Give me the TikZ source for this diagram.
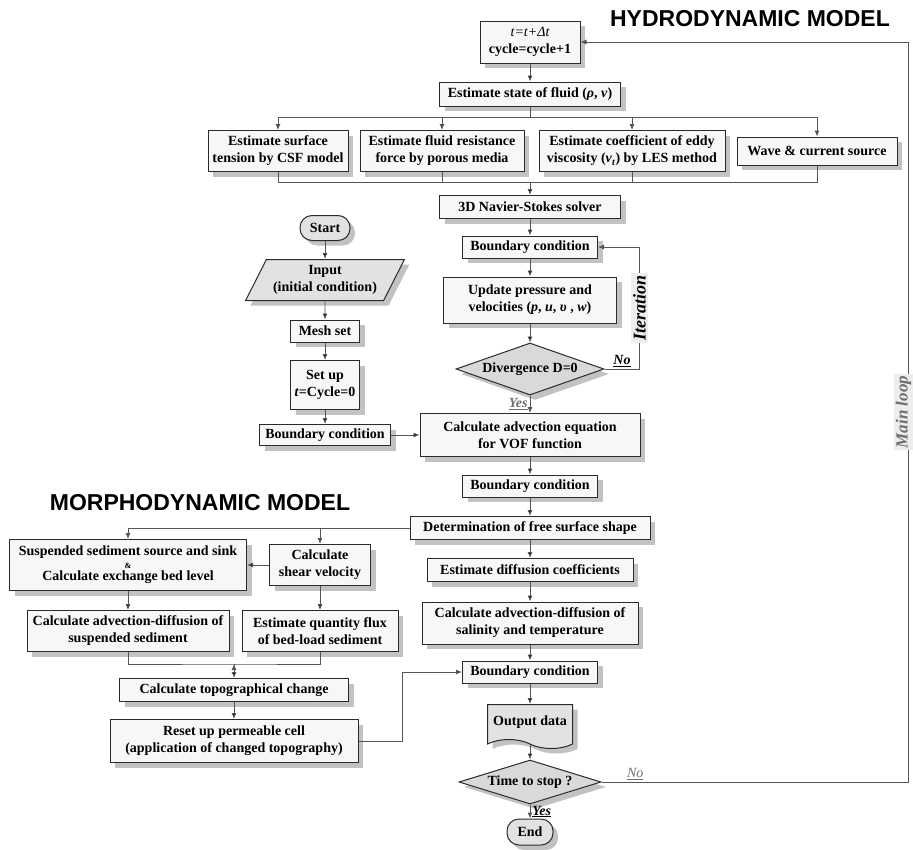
\documentclass[tikz,border=0pt]{standalone}
\usepackage{fontspec}
\setmainfont{Liberation Serif}
\newfontfamily\titlefont{Liberation Sans}
\usepackage{tikz}
\usetikzlibrary{arrows.meta}
\usetikzlibrary{positioning}
\usetikzlibrary{shapes.geometric}
\usetikzlibrary{shapes.symbols}
\usetikzlibrary{shadows}

\definecolor{boxline}{HTML}{2B2B2B}
\definecolor{boxfill}{HTML}{F7F7F7}
\definecolor{decfill}{HTML}{D9D9D9}
\definecolor{termfill}{HTML}{E2E2E2}
\definecolor{shadowgray}{HTML}{C2C2C2}
\definecolor{flowgray}{HTML}{555555}
\definecolor{labelgray}{HTML}{6E6E6E}
\definecolor{labelfill}{HTML}{EDEDED}

\tikzset{
  process/.style={draw=boxline, fill=boxfill, line width=1pt,
    align=center, inner sep=2pt,
    font=\bfseries\fontsize{14pt}{17pt}\selectfont,
    general shadow={shadow xshift=5pt, shadow yshift=-5pt, fill=shadowgray}},
  decision/.style={process, diamond, fill=decfill, inner sep=0pt},
  terminal/.style={process, rounded corners=12pt, fill=termfill},
  io/.style={process, trapezium, trapezium left angle=60,
    trapezium right angle=120, trapezium stretches, fill=termfill},
  document/.style={process, tape, tape bend top=none,
    tape bend bottom=out and in, tape bend height=9pt, fill=termfill},
  flow/.style={->, draw=flowgray, line width=0.9pt},
  flowline/.style={draw=flowgray, line width=0.9pt},
  answer/.style={font=\bfseries\itshape\fontsize{14pt}{16pt}\selectfont,
    inner sep=2pt},
  looplabel/.style={font=\bfseries\itshape\fontsize{18pt}{18pt}\selectfont,
    fill=labelfill, rotate=90, inner sep=2pt},
  modeltitle/.style={font=\titlefont\bfseries\fontsize{23pt}{23pt}\selectfont,
    inner sep=0pt}
}

\begin{document}
\begin{tikzpicture}[x=1pt, y=-1pt,
      >={Latex[length=6pt, width=5pt]},
      node distance=40pt,
      on grid]

    \useasboundingbox (0,0) rectangle (913,849);

    % hydrodynamic part
    \node[modeltitle]
      (HydroTitle) at (750,19) {HYDRODYNAMIC MODEL};
    \node[process, minimum width=100pt, minimum height=42pt]
      (Top) at (530,42) {{\mdseries\itshape t=t+Δt}\\cycle=cycle+1};
    \node[process, minimum width=181pt, minimum height=24pt]
      (State) [below=52pt of Top] {Estimate state of fluid (\textit{ρ}, \textit{v})};
    \node[process, minimum width=164pt, minimum height=41pt]
      (Resist) [below left=57pt and 88pt of State] {Estimate fluid resistance\\force by porous media};
    \node[process, minimum width=140pt, minimum height=41pt]
      (Surface) [left=164pt of Resist] {Estimate surface\\tension by CSF model};
    \node[process, minimum width=186pt, minimum height=41pt]
      (Eddy) [right=190pt of Resist] {Estimate coefficient of eddy\\viscosity (\textit{v}\textsubscript{\textit{t}}) by LES method};
    \node[process, minimum width=160pt, minimum height=28pt]
      (Wave) [right=185pt of Eddy] {Wave \& current source};
    \node[process, minimum width=181pt, minimum height=23pt]
      (NSSolver) [below=113pt of State] {3D Navier-Stokes solver};
    \node[process, minimum width=135pt, minimum height=22pt]
      (BCa) [below=40pt of NSSolver] {Boundary condition};
    \node[process, minimum width=173pt, minimum height=46pt]
      (Update) [below=53pt of BCa] {Update pressure and\\velocities (\textit{p}, \textit{u}, \textit{υ} , \textit{w})};
    \node[decision, aspect=2.85, minimum width=148pt, minimum height=52pt]
      (Div) [below=69pt of Update] {Divergence D=0};
    \node[process, minimum width=220pt, minimum height=43pt]
      (VOF) [below=66pt of Div] {Calculate advection equation\\for VOF function};
    \node[process, minimum width=135pt, minimum height=22pt]
      (BCb) [below=51pt of VOF] {Boundary condition};
    \node[process, minimum width=240pt, minimum height=23pt]
      (Surf) [below=42pt of BCb] {Determination of free surface shape};
    \node[process, minimum width=206pt, minimum height=23pt]
      (Diffusion) [below=42pt of Surf] {Estimate diffusion coefficients};
    \node[process, minimum width=216pt, minimum height=42pt]
      (Salinity) [below=53pt of Diffusion] {Calculate advection-diffusion of\\salinity and temperature};
    \node[process, minimum width=135pt, minimum height=22pt]
      (BCc) [below=49pt of Salinity] {Boundary condition};
    \node[document, minimum width=85pt, minimum height=44pt]
      (Output) [below=50pt of BCc] {Output data};
    \node[decision, aspect=3.2, minimum width=142pt, minimum height=44pt]
      (Stop) [below=60pt of Output] {Time to stop ?};
    \node[terminal, minimum width=46pt, minimum height=26pt]
      (End) [below=50pt of Stop] {End};

    % initial setting
    \node[process, minimum width=131pt, minimum height=21pt]
      (BCInit) [left=205pt of VOF] {Boundary condition};
    \node[process, minimum width=69pt, minimum height=49pt]
      (SetUp) [above=50pt of BCInit] {Set up\\\textit{t}=Cycle=0};
    \node[process, minimum width=69pt, minimum height=22pt]
      (Mesh) [above=54pt of SetUp] {Mesh set};
    \node[io, minimum width=159pt, minimum height=41pt]
      (Input) [above=51pt of Mesh] {Input\\(initial condition)};
    \node[terminal, minimum width=50pt, minimum height=25pt]
      (Start) [above=52pt of Input] {Start};

    % morphodynamic part
    \node[modeltitle]
      (MorphoTitle) at (200,503) {MORPHODYNAMIC MODEL};
    \node[process, minimum width=101pt, minimum height=41pt]
      (Shear) [below left=37pt and 210pt of Surf] {Calculate\\shear velocity};
    \node[process, minimum width=237pt, minimum height=51pt]
      (Source) [left=192pt of Shear] {Suspended sediment source and sink\\[-4pt]{\fontsize{8pt}{8pt}\selectfont\&}\\[-5pt]Calculate exchange bed level};
    \node[process, minimum width=156pt, minimum height=41pt]
      (Flux) [below=66pt of Shear] {Estimate quantity flux\\of bed-load sediment};
    \node[process, minimum width=202pt, minimum height=41pt]
      (SuspAdv) [below=66pt of Source] {Calculate advection-diffusion of\\suspended sediment};
    \node[process, minimum width=229pt, minimum height=23pt]
      (Topo) [below right=59pt and 106pt of SuspAdv] {Calculate topographical change};
    \node[process, minimum width=248pt, minimum height=43pt]
      (Reset) [below=51pt of Topo] {Reset up permeable cell\\(application of changed topography)};

    \coordinate (Split) at (530,117);
    \coordinate (Merge) at (530,182);
    \coordinate (MorphMerge) at (234,664);

    \path[flow]
      (Top) edge (State)
      (Merge) edge (NSSolver)
      (NSSolver) edge (BCa)
      (BCa) edge (Update)
      (Update) edge (Div)
      (VOF) edge (BCb)
      (BCb) edge (Surf)
      (Surf) edge (Diffusion)
      (Diffusion) edge (Salinity)
      (Salinity) edge (BCc)
      (BCc) edge (Output)
      (Output) edge (Stop)
      (Start) edge (Input)
      (Input) edge (Mesh)
      (Mesh) edge (SetUp)
      (SetUp) edge (BCInit)
      (BCInit) edge (VOF)
      (Shear) edge (Source)
      (Source) edge (SuspAdv)
      (Shear) edge (Flux)
      (MorphMerge) edge (Topo)
      (Topo) edge (Reset);

    \draw[flowline] (State) -- (Split);
    \draw[flowline] (Split -| Surface) -- (Split -| Wave);
    \draw[flow] (Split -| Surface) -- (Surface);
    \draw[flow] (Split -| Resist) -- (Resist);
    \draw[flow] (Split -| Eddy) -- (Eddy);
    \draw[flow] (Split -| Wave) -- (Wave);
    \draw[flowline] (Surface.south) |- (Wave.south |- Merge) -- (Wave.south);
    \draw[flowline] (Resist.south) -- (Resist.south |- Merge);
    \draw[flowline] (Eddy.south) -- (Eddy.south |- Merge);

    \draw[flow] (Div.east) -- node[answer, above] {\underline{No}} ++(35,0)
      |- node[looplabel, pos=0.25] {Iteration} (BCa.east);
    \draw[flow] (Div) -- node[answer, left, text=labelgray] {\underline{Yes}} (VOF);
    \draw[flow] (Stop) -- node[answer, right] {\underline{Yes}} (End);
    \draw[flow] (Stop.east) -- node[answer, above, pos=0.11, text=labelgray] {\underline{\mdseries No}} ++(307,0)
      |- node[looplabel, pos=0.25, yshift=5pt, inner sep=1.5pt, text=labelgray,
              font=\bfseries\itshape\fontsize{17pt}{17pt}\selectfont] {Main loop} (Top.east);

    \draw[flow] (Surf.west) -| (Source.north);
    \draw[flow] (Surf.west -| Shear) -- (Shear);
    \draw[flowline] (SuspAdv.south) |- (MorphMerge) -| (Flux.south);
    \draw[flow] (Reset.east) -- ++(44,0) |- (BCc.west);

  \end{tikzpicture}
\end{document}
